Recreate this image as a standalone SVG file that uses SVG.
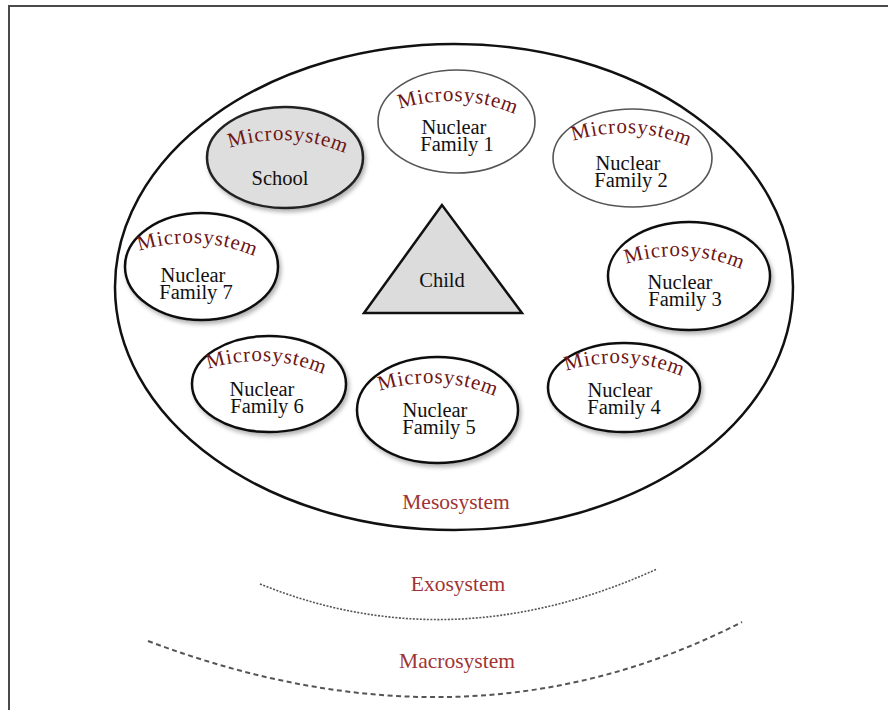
<svg xmlns="http://www.w3.org/2000/svg" xmlns:xlink="http://www.w3.org/1999/xlink" width="888" height="710" viewBox="0 0 888 710">
<style>
.frame{fill:none;stroke:#4a4a4a;stroke-width:2}
.meso{fill:none;stroke:#111;stroke-width:2.5}
.micro{fill:#fff;stroke:#111;stroke-width:2.5;filter:url(#sh)}
.thin{fill:#fff;stroke:#555;stroke-width:1.6}
.grey{fill:#dedede;stroke:#222;stroke-width:2.5;filter:url(#sh)}
.tri{fill:#dcdcdc;stroke:#111;stroke-width:2.5;stroke-linejoin:miter}
.ms{font-family:"Liberation Serif","Times New Roman",serif;font-size:21px;fill:#6e1515;letter-spacing:0.8px}
.lbl{font-family:"Liberation Serif","Times New Roman",serif;font-size:20.5px;fill:#111;text-anchor:middle}
.sys{font-family:"Liberation Serif","Times New Roman",serif;font-size:21.5px;fill:#a03434;text-anchor:middle}
.dot{fill:none;stroke:#555;stroke-width:1.6;stroke-dasharray:2 1.5}
.dash{fill:none;stroke:#555;stroke-width:2;stroke-dasharray:5 3.5}
</style>
<defs>
<filter id="sh" x="-20%" y="-20%" width="140%" height="150%">
<feDropShadow dx="2" dy="3" stdDeviation="2" flood-color="#000" flood-opacity="0.3"/>
</filter>
<path id="a-school" d="M221.5,151 A165,165 0 0 1 353.5,157"/>
<path id="a-nf1" d="M391.5,112 A165,165 0 0 1 523.5,118"/>
<path id="a-nf2" d="M565,144 A165,165 0 0 1 697,150"/>
<path id="a-nf3" d="M618,267 A165,165 0 0 1 750,273"/>
<path id="a-nf7" d="M131,254 A165,165 0 0 1 263,260"/>
<path id="a-nf6" d="M200,372 A165,165 0 0 1 332,378"/>
<path id="a-nf5" d="M371.5,394 A165,165 0 0 1 503.5,400"/>
<path id="a-nf4" d="M558,374 A165,165 0 0 1 690,380"/>
</defs>
<rect width="888" height="710" fill="#fff"/>
<rect class="frame" x="9" y="6" width="900" height="720"/>

<g id="mesosystem">
<ellipse class="meso" cx="454" cy="287" rx="339" ry="243"/>
<text class="sys" x="456" y="509">Mesosystem</text>
</g>

<g id="exosystem">
<path class="dot" d="M260,584 Q452,662 657,569"/>
<text class="sys" x="458" y="591">Exosystem</text>
</g>

<g id="macrosystem">
<path class="dash" d="M148,641 Q469,762 742,622"/>
<text class="sys" x="457" y="668">Macrosystem</text>
</g>

<g id="child">
<polygon class="tri" points="442,205 364,313 522,313"/>
<text class="lbl" x="442" y="287">Child</text>
</g>

<g id="school">
<ellipse class="grey" cx="285" cy="157.5" rx="78" ry="50.5"/>
<text class="ms" text-anchor="middle"><textPath xlink:href="#a-school" href="#a-school" startOffset="50%">Microsystem</textPath></text>
<text class="lbl" x="280" y="185">School</text>
</g>

<g id="nf1">
<ellipse class="thin" cx="456.5" cy="121.5" rx="78.5" ry="51.5"/>
<text class="ms" text-anchor="middle"><textPath xlink:href="#a-nf1" href="#a-nf1" startOffset="50%">Microsystem</textPath></text>
<text class="lbl" x="454" y="134">Nuclear</text>
<text class="lbl" x="457" y="151">Family 1</text>
</g>

<g id="nf2">
<ellipse class="thin" cx="632.5" cy="158" rx="79.5" ry="49"/>
<text class="ms" text-anchor="middle"><textPath xlink:href="#a-nf2" href="#a-nf2" startOffset="50%">Microsystem</textPath></text>
<text class="lbl" x="628" y="170">Nuclear</text>
<text class="lbl" x="631" y="187">Family 2</text>
</g>

<g id="nf3">
<ellipse class="micro" cx="689" cy="276" rx="81" ry="54"/>
<text class="ms" text-anchor="middle"><textPath xlink:href="#a-nf3" href="#a-nf3" startOffset="50%">Microsystem</textPath></text>
<text class="lbl" x="680" y="289">Nuclear</text>
<text class="lbl" x="685" y="306">Family 3</text>
</g>

<g id="nf4">
<ellipse class="micro" cx="624" cy="387.5" rx="76" ry="44.5"/>
<text class="ms" text-anchor="middle"><textPath xlink:href="#a-nf4" href="#a-nf4" startOffset="50%">Microsystem</textPath></text>
<text class="lbl" x="620" y="397">Nuclear</text>
<text class="lbl" x="624" y="414">Family 4</text>
</g>

<g id="nf5">
<ellipse class="micro" cx="437.5" cy="410" rx="80.5" ry="53"/>
<text class="ms" text-anchor="middle"><textPath xlink:href="#a-nf5" href="#a-nf5" startOffset="50%">Microsystem</textPath></text>
<text class="lbl" x="435" y="417">Nuclear</text>
<text class="lbl" x="439" y="434">Family 5</text>
</g>

<g id="nf6">
<ellipse class="micro" cx="269" cy="384" rx="77" ry="48"/>
<text class="ms" text-anchor="middle"><textPath xlink:href="#a-nf6" href="#a-nf6" startOffset="50%">Microsystem</textPath></text>
<text class="lbl" x="262" y="396">Nuclear</text>
<text class="lbl" x="267" y="413">Family 6</text>
</g>

<g id="nf7">
<ellipse class="micro" cx="201.5" cy="266.5" rx="76.5" ry="53.5"/>
<text class="ms" text-anchor="middle"><textPath xlink:href="#a-nf7" href="#a-nf7" startOffset="50%">Microsystem</textPath></text>
<text class="lbl" x="193" y="282">Nuclear</text>
<text class="lbl" x="196" y="299">Family 7</text>
</g>
</svg>
